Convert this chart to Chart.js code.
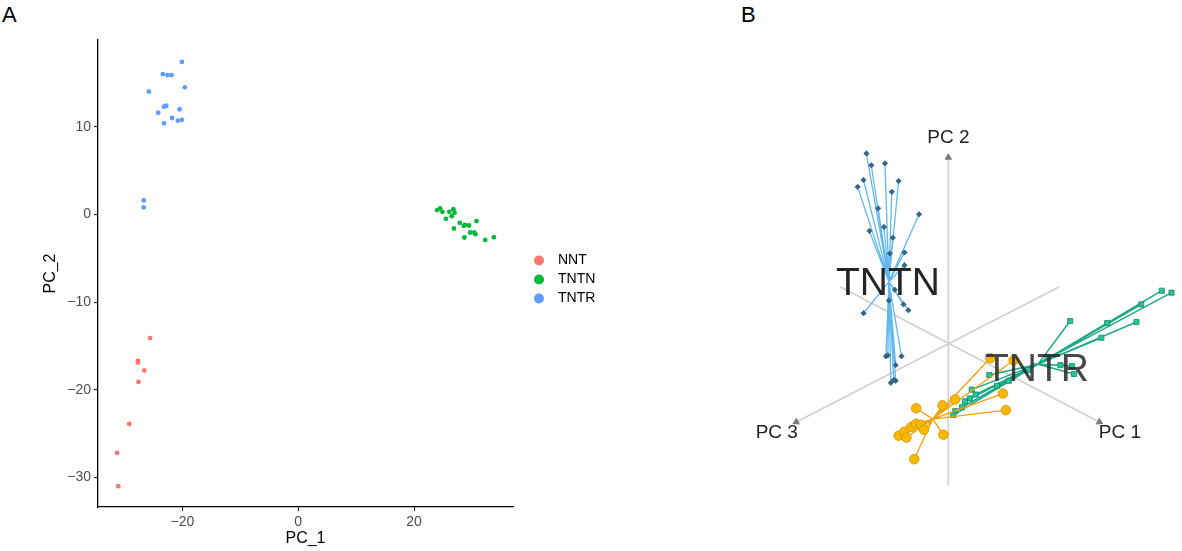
<!DOCTYPE html>
<html>
<head>
<meta charset="utf-8">
<script src="https://cdn.jsdelivr.net/npm/chart.js@4.4.1/dist/chart.umd.min.js"></script>
<style>
  body { margin: 0; background: #fff; width: 1182px; height: 551px; overflow: hidden; position: relative;
         font-family: "Liberation Sans", Arial, sans-serif; }
  .panel { position: absolute; top: 0; height: 551px; }
  #boxA { left: 0; width: 640px; }
  #boxB { left: 740px; width: 442px; }
  .tag { position: absolute; top: 4px; font-size: 22px; line-height: 22px; color: #000; }
</style>
</head>
<body>
<div class="tag" style="left:2px">A</div>
<div class="tag" style="left:741px">B</div>
<div class="panel" id="boxA"><canvas id="chartA"></canvas></div>
<div class="panel" id="boxB"><canvas id="chartB"></canvas></div>
<script>
// ---- panel A: PC_1 / PC_2 scores per group ----
const groups = ['NNT', 'TNTN', 'TNTR'];
const groupColors = ['#F8766D', '#00BA38', '#619CFF'];

const nntPC1 = [-25.6, -27.7, -27.7, -26.6, -27.6, -29.2, -31.3, -31.1];
const nntPC2 = [-14.1, -16.7, -16.9, -17.8, -19.1, -23.9, -27.2, -31.0];

const tntnPC1 = [24.0, 24.5, 24.9, 26.1, 26.8, 27.0, 26.5, 25.5, 27.9, 28.6,
                 28.8, 29.5, 30.8, 26.9, 29.7, 30.4, 30.6, 28.7, 32.3, 33.8];
const tntnPC2 = [0.5, 0.7, 0.3, 0.3, 0.6, 0.2, -0.2, -0.5, -0.95, -1.3,
                 -1.2, -1.26, -0.76, -1.6, -2.06, -2.06, -2.25, -2.63, -2.9, -2.6];

const tntrPC1 = [-20.1, -23.4, -22.6, -21.9, -25.8, -19.6, -23.2, -22.8, -24.2, -20.5,
                 -21.8, -23.2, -20.8, -20.1, -26.7, -26.7];
const tntrPC2 = [17.4, 16.0, 15.9, 15.9, 14.0, 14.5, 12.3, 12.4, 11.6, 12.0,
                 11.0, 10.4, 10.7, 10.8, 1.6, 0.8];

const xTicks = [-20, 0, 20];
const yTicks = [-30, -20, -10, 0, 10];

// ---- panel B: 3D PCA projected onto the page (x right, y up) ----
const nntCentre = [-16, -78];
const nntProj = [[43, -16], [67, -18], [56, -52], [59, -69], [7, -58], [-6, -64], [-33, -67],
                 [-5, -94], [-35, -119], [-51, -95], [-45, -91], [-38, -86], [-33, -83],
                 [-28, -84], [-25, -89], [-43, -97]];
const tntnCentre = [-61, 62];
const tntnProj = [[-84, 193], [-79, 181], [-65, 183], [-87, 166], [-93, 159], [-51, 165],
                  [-58, 154], [-72, 137], [-30, 131], [-66, 118], [-81, 114], [-57, 107],
                  [-60, 91], [-45, 92], [-45, 79], [-55, 54], [-61, 43], [-46, 39], [-41, 33],
                  [-87, 30], [-64, -14], [-62, -13], [-48, -14], [-54, -23], [-59, -41],
                  [-54, -39], [-56, -38]];
const tntrCentre = [92, -22];
const tntrProj = [[219, 53], [229, 51], [198, 39], [125, 22], [163, 20], [193, 21], [157, 5],
                  [102, -15], [115, -23], [127, -24], [129, -32], [42, -33], [24, -48],
                  [28, -53], [17, -60], [14, -66], [7, -70], [82, -28], [62, -39], [50, -44],
                  [5, -74], [22, -57]];

const axisNames = ['PC 1', 'PC 2', 'PC 3'];
const axisEnds = [[[-111, 57], [155, -81]], [[0, -146], [0, 189]], [[114, 57], [-156, -81]]];

Chart.defaults.font.family = "'Liberation Sans', Arial, sans-serif";
Chart.defaults.animation = false;

const toXY = (xs, ys) => xs.map((x, i) => ({ x: x, y: ys[i] }));
const minus = v => String(v).replace('-', '\u2212');

const sideLegend = {
  id: 'sideLegend',
  afterDraw(chart, args, opts) {
    const ctx = chart.ctx;
    const area = chart.chartArea;
    const mid = (area.top + area.bottom) / 2 + opts.shift;
    const n = chart.data.datasets.length;
    ctx.save();
    ctx.font = opts.font;
    ctx.textBaseline = 'middle';
    chart.data.datasets.forEach((ds, i) => {
      const y = mid + (i - (n - 1) / 2) * opts.step;
      const x = area.right + opts.offset;
      ctx.beginPath();
      ctx.arc(x, y, opts.radius, 0, Math.PI * 2);
      ctx.fillStyle = ds.backgroundColor;
      ctx.fill();
      ctx.fillStyle = '#000';
      ctx.fillText(ds.label, x + opts.gap, y);
    });
    ctx.restore();
  }
};

new Chart(document.getElementById('chartA'), {
  type: 'scatter',
  data: {
    datasets: [
      { label: groups[0], data: toXY(nntPC1, nntPC2), backgroundColor: groupColors[0] },
      { label: groups[1], data: toXY(tntnPC1, tntnPC2), backgroundColor: groupColors[1] },
      { label: groups[2], data: toXY(tntrPC1, tntrPC2), backgroundColor: groupColors[2] }
    ]
  },
  options: {
    responsive: true,
    maintainAspectRatio: false,
    layout: { padding: { top: 40, right: 127, left: 0, bottom: 0 } },
    elements: { point: { radius: 2.4, borderWidth: 0, hoverRadius: 2.4 } },
    plugins: {
      legend: { display: false },
      tooltip: { enabled: false },
      sideLegend: { font: "14px 'Liberation Sans', Arial, sans-serif", offset: 26, gap: 19,
                    step: 19, radius: 5, shift: 6 }
    },
    scales: {
      x: {
        type: 'linear', min: -34.6, max: 37.1,
        afterFit: s => { s.height = 44; },
        afterBuildTicks: s => { s.ticks = xTicks.map(v => ({ value: v })); },
        grid: { drawOnChartArea: false, drawTicks: true, tickLength: 4, tickColor: '#222', tickWidth: 1.2 },
        border: { display: true, color: '#000', width: 1.3 },
        ticks: { color: '#4d4d4d', font: { size: 14 }, padding: 3, callback: v => minus(v) },
        title: { display: true, text: 'PC_1', color: '#000', font: { size: 16 }, padding: { top: 0, bottom: 3 } }
      },
      y: {
        type: 'linear', min: -33.37, max: 19.9,
        afterFit: s => { s.width = 98; },
        afterBuildTicks: s => { s.ticks = yTicks.map(v => ({ value: v })); },
        grid: { drawOnChartArea: false, drawTicks: true, tickLength: 4, tickColor: '#222', tickWidth: 1.2 },
        border: { display: true, color: '#000', width: 1.3 },
        ticks: { color: '#4d4d4d', font: { size: 14 }, padding: 3, callback: v => minus(v) },
        title: { display: true, text: 'PC_2', color: '#000', font: { size: 16 }, padding: { top: 41, bottom: 0 } }
      }
    }
  },
  plugins: [sideLegend]
});

// ---- panel B ----
function spokes(centre, pts) {
  const out = [];
  pts.forEach(p => {
    out.push({ x: centre[0], y: centre[1] });
    out.push({ x: p[0], y: p[1] });
  });
  return out;
}

function axisSet(i) {
  const a = axisEnds[i][0], b = axisEnds[i][1];
  const turn = Math.atan2(b[0] - a[0], b[1] - a[1]) * 180 / Math.PI;
  return {
    label: axisNames[i],
    data: [{ x: a[0], y: a[1] }, { x: b[0], y: b[1] }],
    showLine: true,
    borderColor: '#cfcfcf',
    borderWidth: 1.5,
    pointStyle: 'triangle',
    pointRadius: [0, 4.5],
    pointRotation: [0, turn],
    pointBackgroundColor: '#7a7a7a',
    pointBorderWidth: 0,
    order: 10
  };
}

const textLabels = {
  id: 'textLabels',
  afterDatasetsDraw(chart, args, opts) {
    const ctx = chart.ctx;
    const sx = chart.scales.x, sy = chart.scales.y;
    ctx.save();
    ctx.textAlign = 'center';
    ctx.textBaseline = 'middle';
    opts.items.forEach(it => {
      ctx.font = it.size + "px 'Liberation Sans', Arial, sans-serif";
      ctx.fillStyle = it.color;
      ctx.fillText(it.text, sx.getPixelForValue(it.at[0]), sy.getPixelForValue(it.at[1]));
    });
    ctx.restore();
  }
};

const radiusOdd = r => c => (c.dataIndex % 2 === 0 ? 0 : r);

new Chart(document.getElementById('chartB'), {
  type: 'scatter',
  data: {
    datasets: [
      {
        label: groups[0], data: spokes(nntCentre, nntProj), showLine: true,
        borderColor: '#f0a30a', borderWidth: 1.3, pointStyle: 'circle',
        pointRadius: radiusOdd(4.8), pointBackgroundColor: '#f6b800', pointBorderColor: '#d39300',
        pointBorderWidth: 0.8, order: 1
      },
      {
        label: groups[2], data: spokes(tntrCentre, tntrProj), showLine: true,
        borderColor: '#1fa887', borderWidth: 1.5, pointStyle: 'rect',
        pointRadius: radiusOdd(3.6), pointBackgroundColor: '#26c49a', pointBorderColor: '#13876a',
        pointBorderWidth: 0.8, order: 2
      },
      {
        label: groups[1], data: spokes(tntnCentre, tntnProj), showLine: true,
        borderColor: '#62b8ee', borderWidth: 1.3, pointStyle: 'rectRot',
        pointRadius: radiusOdd(2.7), pointBackgroundColor: '#2f6a8c', pointBorderColor: '#244f6a',
        pointBorderWidth: 0.6, order: 3
      },
      axisSet(0), axisSet(1), axisSet(2)
    ]
  },
  options: {
    responsive: true,
    maintainAspectRatio: false,
    layout: { padding: 0 },
    elements: { line: { tension: 0 } },
    plugins: {
      legend: { display: false },
      tooltip: { enabled: false },
      textLabels: {
        items: [
          { text: axisNames[0], at: [176, -92], size: 19, color: '#222' },
          { text: axisNames[1], at: [0, 209], size: 19, color: '#222' },
          { text: axisNames[2], at: [-176, -92], size: 19, color: '#222' },
          { text: groups[1], at: [-62, 60], size: 39, color: 'rgba(20,20,20,0.92)' },
          { text: groups[2], at: [91, -28], size: 39, color: 'rgba(40,40,40,0.85)' }
        ]
      }
    },
    scales: {
      x: { type: 'linear', display: false, min: -208, max: 234 },
      y: { type: 'linear', display: false, min: -207, max: 344 }
    }
  },
  plugins: [textLabels]
});
</script>
</body>
</html>
